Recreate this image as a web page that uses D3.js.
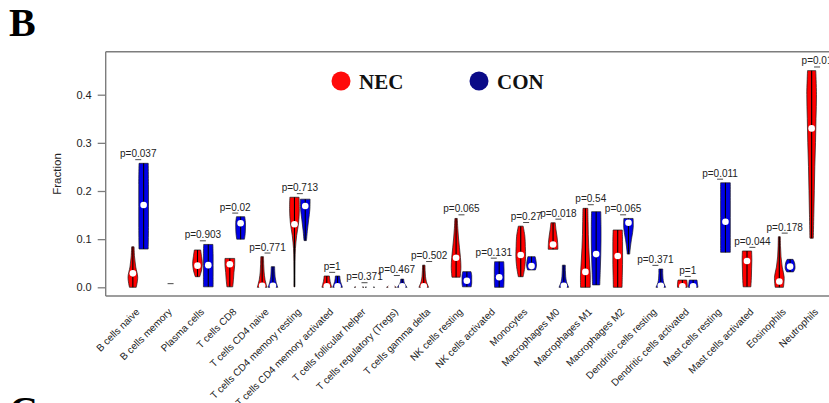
<!DOCTYPE html>
<html>
<head>
<meta charset="utf-8">
<script src="https://cdn.jsdelivr.net/npm/d3@7"></script>
<style>
  html, body { margin: 0; padding: 0; background: #fff; }
  svg { display: block; }
</style>
</head>
<body>
<svg id="chart" width="829" height="403"></svg>
<script>
// Immune cell fractions (CIBERSORT), NEC vs CON, one violin pair per cell type
const cells = ["B cells naive", "B cells memory", "Plasma cells", "T cells CD8", "T cells CD4 naive",
  "T cells CD4 memory resting", "T cells CD4 memory activated", "T cells follicular helper",
  "T cells regulatory (Tregs)", "T cells gamma delta", "NK cells resting", "NK cells activated",
  "Monocytes", "Macrophages M0", "Macrophages M1", "Macrophages M2", "Dendritic cells resting",
  "Dendritic cells activated", "Mast cells resting", "Mast cells activated", "Eosinophils", "Neutrophils"];

const pLabels = ["p=0.037", "", "p=0.903", "p=0.02", "p=0.771", "p=0.713", "p=1", "p=0.371", "p=0.467",
  "p=0.502", "p=0.065", "p=0.131", "p=0.27", "p=0.018", "p=0.54", "p=0.065", "p=0.371", "p=1",
  "p=0.011", "p=0.044", "p=0.178", "p=0.01"];

// NEC group: range, median and relative density (bottom -> top) for each cell type
const necMin = [0, null, 0.022, 0.001, 0, 0.001, 0, 0, 0, 0, 0.021, null, 0.022, 0.079, 0, 0, null, 0, null, 0.001, 0, 0.102];
const necMax = [0.084, null, 0.0775, 0.060, 0.0636, 0.187, 0.0235, 0.002, 0.005, 0.046, 0.143, null, 0.127, 0.134, 0.164, 0.119, null, 0.015, null, 0.0754, 0.105, 0.450];
const necMed = [0.029, null, 0.045, 0.048, 0.003, 0.131, 0.002, 0, 0.001, 0.002, 0.0615, null, 0.067, 0.089, 0.032, 0.065, null, 0.002, null, 0.0546, 0.012, 0.330];
const necShape = [
  [0.7, 1, 0.6, 0.35, 0.25], null, [0.45, 0.85, 1, 0.85, 0.65], [0.6, 0.75, 0.85, 1, 1],
  [1, 0.6, 0.4, 0.32, 0.28], [0.1, 0.1, 0.12, 0.2, 0.45, 0.85, 1, 0.95], [1, 0.85, 0.7, 0.6, 0.55],
  [1, 0.6, 0.3], [1, 0.6, 0.4], [1, 0.55, 0.35, 0.28, 0.25], [0.85, 1, 0.9, 0.7, 0.5, 0.35, 0.25], null,
  [0.5, 0.85, 1, 0.95, 0.85, 0.5], [1, 0.95, 0.8, 0.6, 0.45], [1, 1, 0.85, 0.7, 0.6, 0.55, 0.5],
  [0.9, 0.95, 1, 1, 1, 0.95], null, [1, 1, 0.9], null, [0.8, 0.9, 0.95, 1, 0.95],
  [0.85, 1, 0.6, 0.35, 0.25, 0.2], [0.35, 0.45, 0.55, 0.65, 0.8, 0.9, 1, 0.85]];

// CON group
const conMin = [0.0795, null, 0.001, 0.100, 0, 0.097, 0, 0, 0, null, 0.001, 0, 0.036, 0, 0.005, 0.069, 0, 0, 0.0727, null, 0.032, null];
const conMax = [0.2575, null, 0.089, 0.1466, 0.0428, 0.183, 0.0235, 0.001, 0.017, null, 0.0325, 0.053, 0.0636, 0.046, 0.157, 0.143, 0.038, 0.015, 0.217, null, 0.058, null];
const conMed = [0.171, null, 0.046, 0.133, 0.003, 0.169, 0.002, 0, 0.002, null, 0.0137, 0.021, 0.044, 0.003, 0.069, 0.134, 0.003, 0.002, 0.136, null, 0.043, null];
const conShape = [
  [0.95, 1, 1, 1, 0.95], null, [1, 1, 1, 1, 0.95], [0.8, 0.95, 1, 1, 0.85],
  [1, 0.65, 0.45, 0.38, 0.35], [0.25, 0.45, 0.7, 0.95, 1], [1, 0.8, 0.6, 0.5, 0.45],
  [1, 0.6, 0.3], [1, 0.7, 0.45, 0.35, 0.3], null, [0.9, 1, 1, 1, 0.85], [0.95, 1, 1, 1, 0.95],
  [0.8, 1, 1, 0.9, 0.75], [1, 0.55, 0.38, 0.32, 0.3], [0.75, 0.85, 0.95, 1, 1, 0.95],
  [0.25, 0.4, 0.6, 0.85, 1, 0.95], [1, 0.6, 0.45, 0.4, 0.4], [1, 0.9, 0.8], [1, 1, 1, 1, 1], null,
  [0.7, 1, 1, 0.9, 0.6], null];

const yTicks = [0.0, 0.1, 0.2, 0.3, 0.4];
const groups = ["NEC", "CON"];
const groupColors = ["#ff0000", "#0000e6"];
const legendColors = ["#ff0a0a", "#0b0b88"];

const svg = d3.select("#chart");
svg.append("rect").attr("width", 829).attr("height", 403).attr("fill", "#fff");

// Plot coordinates: NEC at 3*(i-1), CON at 3*(i-1)+1
const x = d3.scaleLinear().domain([-2.52, 65.52]).range([105.7, 838.8]);
const y = d3.scaleLinear().domain([0, 0.4]).range([287.3, 94.7]);
const unit = x(1) - x(0);
const halfW = 0.45 * unit;

const frameTop = 51.7, frameBottom = 296, frameLeft = 105.7;
const axisColor = "#7d7d7d";

// Panel letters
svg.append("text").attr("x", 9).attr("y", 36)
  .attr("font-family", "Liberation Serif, Times New Roman, serif").attr("font-weight", "bold")
  .attr("font-size", 40).attr("fill", "#000").text("B");
svg.append("text").attr("x", 9).attr("y", 424)
  .attr("font-family", "Liberation Serif, Times New Roman, serif").attr("font-weight", "bold")
  .attr("font-size", 40).attr("fill", "#000").text("C");

// Frame: the right side lies past the visible area
const frame = svg.append("g").attr("stroke", axisColor).attr("stroke-width", 1.4).attr("fill", "none");
frame.append("line").attr("x1", frameLeft).attr("x2", 829).attr("y1", frameTop).attr("y2", frameTop);
frame.append("line").attr("x1", frameLeft).attr("x2", 829).attr("y1", frameBottom).attr("y2", frameBottom);
frame.append("line").attr("x1", frameLeft).attr("x2", frameLeft).attr("y1", frameTop).attr("y2", frameBottom);

// Y axis
const yAxis = d3.axisLeft(y).tickValues(yTicks).tickFormat(d3.format(".1f")).tickSize(8).tickPadding(6);
const gy = svg.append("g").attr("transform", `translate(${frameLeft},0)`).call(yAxis);
gy.select(".domain").remove();
gy.selectAll(".tick line").attr("stroke", axisColor).attr("stroke-width", 1.3);
gy.selectAll(".tick text").attr("font-family", "Liberation Sans, Arial, sans-serif")
  .attr("font-size", 11).attr("fill", "#222");

svg.append("text")
  .attr("transform", "translate(57,174) rotate(-90)")
  .attr("text-anchor", "middle").attr("dominant-baseline", "central")
  .attr("font-family", "Liberation Sans, Arial, sans-serif").attr("font-size", 11.5)
  .attr("fill", "#222").text("Fraction");

// Violins
const plot = svg.append("g");
const area = d3.area()
  .y(d => y(d.v))
  .x0(d => d.c - halfW * d.w)
  .x1(d => d.c + halfW * d.w)
  .curve(d3.curveCatmullRom.alpha(0.5));

function drawViolin(c, lo, hi, med, shape, color) {
  if (lo === null || shape === null) return;
  const n = shape.length;
  const pts = shape.map((w, k) => ({ c, w, v: lo + (hi - lo) * k / (n - 1) }));
  plot.append("path").attr("d", area(pts))
    .attr("fill", color).attr("stroke", "#1a1a1a").attr("stroke-width", 0.7);
  plot.append("line").attr("x1", c).attr("x2", c).attr("y1", y(lo)).attr("y2", y(hi))
    .attr("stroke", "#000").attr("stroke-width", 1.1);
  plot.append("circle").attr("cx", c).attr("cy", y(med)).attr("r", 3.3).attr("fill", "#fff");
}

cells.forEach((name, i) => {
  const base = 3 * i;
  drawViolin(x(base), necMin[i], necMax[i], necMed[i], necShape[i], groupColors[0]);
  drawViolin(x(base + 1), conMin[i], conMax[i], conMed[i], conShape[i], groupColors[1]);

  const top = Math.max(necMax[i] ?? 0, conMax[i] ?? 0);
  const tx = x(base + 0.5);
  plot.append("text").attr("x", tx).attr("y", y(top + 0.02))
    .attr("text-anchor", "middle").attr("dominant-baseline", "central")
    .attr("font-family", "Liberation Sans, Arial, sans-serif").attr("font-size", 10)
    .attr("fill", "#222").text(pLabels[i]);
  plot.append("line").attr("x1", tx - 3).attr("x2", tx + 3)
    .attr("y1", y(top + 0.02) + 6).attr("y2", y(top + 0.02) + 6)
    .attr("stroke", "#333").attr("stroke-width", 0.9);

  // Rotated category label
  const lx = x(base + 1) - 6, ly = 310;
  svg.append("text")
    .attr("transform", `translate(${lx},${ly}) rotate(-45)`)
    .attr("text-anchor", "end").attr("dominant-baseline", "central")
    .attr("font-family", "Liberation Sans, Arial, sans-serif").attr("font-size", 10)
    .attr("fill", "#222").text(name);
});

// Legend
const legendX = [341, 479];
groups.forEach((g, k) => {
  svg.append("circle").attr("cx", legendX[k]).attr("cy", 81).attr("r", 9.5).attr("fill", legendColors[k]);
  svg.append("text").attr("x", legendX[k] + 18).attr("y", 88.5)
    .attr("font-family", "Liberation Serif, Times New Roman, serif").attr("font-weight", "bold")
    .attr("font-size", 21).attr("fill", "#111").text(g);
});
</script>
</body>
</html>
